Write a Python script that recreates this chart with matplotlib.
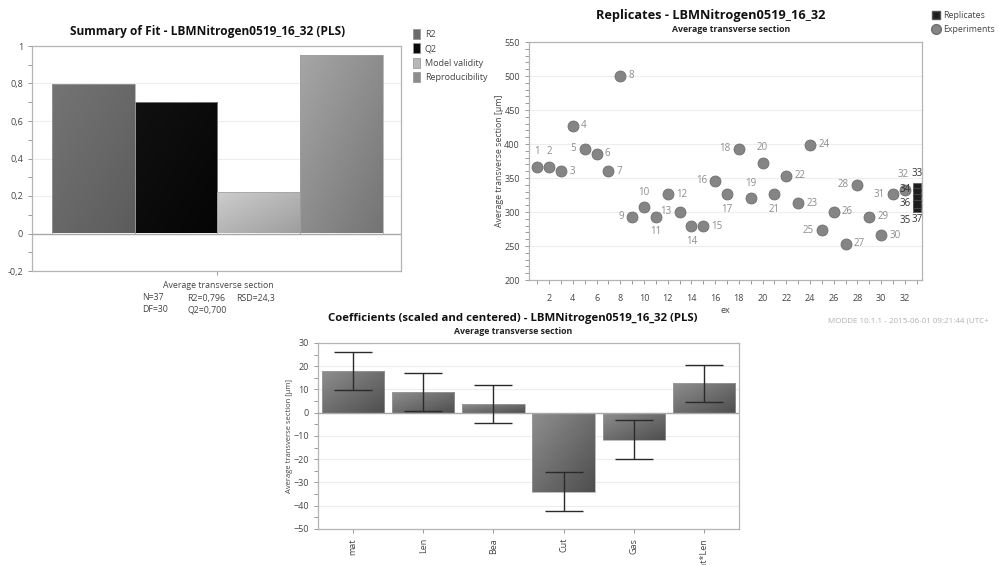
import numpy as np
import matplotlib.pyplot as plt
from matplotlib.patches import Rectangle
from matplotlib.lines import Line2D
from matplotlib.colors import LinearSegmentedColormap
from matplotlib.ticker import MultipleLocator, FuncFormatter

plt.rcParams['font.family'] = ['Open Sans', 'DejaVu Sans']

# --- data -------------------------------------------------------------
fit_names = ['R2', 'Q2', 'Model validity', 'Reproducibility']
fit_values = [0.796, 0.700, 0.222, 0.952]

exp_no = list(range(1, 33))
exp_values = [366, 366, 360, 427, 393, 386, 360, 500, 293, 307, 293, 326,
              300, 279, 279, 346, 326, 393, 320, 372, 326, 353, 313, 399,
              273, 300, 253, 340, 293, 266, 326, 333]
rep_no = [33, 34, 35, 36, 37]
rep_pos = [33, 33, 33, 33, 33]
rep_values = [337, 329, 306, 320, 312]

coef_terms = ['mat', 'Len', 'Bea', 'Cut', 'Gas', 'mat*Len']
coef_values = [17.9, 9.0, 3.7, -33.9, -11.6, 12.6]
coef_err = [8.3, 8.2, 8.2, 8.3, 8.3, 7.8]

# where the point numbers sit around each marker
label_side = {1: 'above', 2: 'above', 3: 'right', 4: 'right', 5: 'left', 6: 'right',
              7: 'right', 8: 'right', 9: 'left', 10: 'above', 11: 'below', 12: 'right',
              13: 'left', 14: 'below', 15: 'right', 16: 'left', 17: 'below', 18: 'left',
              19: 'above', 20: 'above', 21: 'below', 22: 'right', 23: 'right', 24: 'right',
              25: 'left', 26: 'right', 27: 'right', 28: 'left', 29: 'right', 30: 'right',
              31: 'left', 32: 'above'}
# replicate numbers are crowded, so they get their own offsets (points)
rep_label_off = {33: (0.3, 9.9), 34: (-8.4, 2.2), 35: (-8.6, -9.4),
                 36: (-8.4, -4.0), 37: (0.6, -11.0)}

W, H = 999, 565
fig = plt.figure(figsize=(W / 100, H / 100), dpi=100)


def box(x0, y0, x1, y1):
    # pixel box (top-left origin) -> figure fraction
    return [x0 / W, 1 - y1 / H, (x1 - x0) / W, (y1 - y0) / H]


def style(ax):
    for s in ax.spines.values():
        s.set_color('#b4b4b4')
        s.set_linewidth(0.9)
    ax.tick_params(which='both', colors='#9a9a9a', labelcolor='#444444',
                   labelsize=6.5, length=3, width=0.7)
    ax.grid(axis='y', color='#ededed', lw=0.8)
    ax.set_axisbelow(True)


def shade(ax, bars, c1, c2):
    cmap = LinearSegmentedColormap.from_list('g', [c1, c2])
    u, v = np.meshgrid(np.linspace(0, 1, 60), np.linspace(0, 1, 60))
    grad = (u + v) / 2
    xl, yl = ax.get_xlim(), ax.get_ylim()
    for b in bars:
        x0, y0 = b.get_x(), b.get_y()
        w, h = b.get_width(), b.get_height()
        im = ax.imshow(grad, cmap=cmap, origin='upper', aspect='auto',
                       extent=(x0, x0 + w, min(y0, y0 + h), max(y0, y0 + h)),
                       zorder=1.5)
        im.set_clip_path(b)
        b.set_facecolor('none')
    ax.set_xlim(xl)
    ax.set_ylim(yl)


comma = FuncFormatter(lambda v, p: f'{round(v, 1):g}'.replace('.', ','))

# --- summary of fit -----------------------------------------------------
ax1 = fig.add_axes(box(32, 46, 401, 271))
style(ax1)
fit_colors = [('#747474', '#5c5c5c'), ('#111111', '#050505'),
              ('#cdcdcd', '#9e9e9e'), ('#a6a6a6', '#747474')]
ax1.set_xlim(-0.74, 3.72)
ax1.set_ylim(-0.2, 1.0)
for i, (v, c) in enumerate(zip(fit_values, fit_colors)):
    b = ax1.bar(i, v, width=1.0, edgecolor='#a0a0a0', linewidth=0.5, zorder=2)
    shade(ax1, b, c[0], c[1])
ax1.axhline(0, color='#a8a8a8', lw=1, zorder=3)
ax1.yaxis.set_major_locator(MultipleLocator(0.2))
ax1.yaxis.set_minor_locator(MultipleLocator(0.1))
ax1.yaxis.set_major_formatter(comma)
ax1.set_xticks([1.5])
ax1.set_xticklabels([''])
fig.text(208 / W, 1 - 32 / H, 'Summary of Fit - LBMNitrogen0519_16_32 (PLS)',
         ha='center', va='center', fontsize=8.6, fontweight='bold', color='#111111')
fig.text(218 / W, 1 - 286 / H, 'Average transverse section', ha='center', va='center',
         fontsize=6.3, color='#444444')
for x, y, t in [(142, 298, 'N=37'), (187, 298, 'R2=0,796'), (236, 298, 'RSD=24,3'),
                (142, 310, 'DF=30'), (187, 310, 'Q2=0,700')]:
    fig.text(x / W, 1 - y / H, t, ha='left', va='center', fontsize=6.3, color='#444444')
leg_colors = ['#6c6c6c', '#0a0a0a', '#b8b8b8', '#8c8c8c']
handles = [Rectangle((0, 0), 1, 1, fc=c, ec='#909090', lw=0.5) for c in leg_colors]
fig.legend(handles, fit_names, loc='upper left', bbox_to_anchor=(405 / W, 1 - 21 / H),
           frameon=False, fontsize=6.5, handlelength=0.8, handleheight=1.35,
           handletextpad=0.5, labelspacing=0.45, labelcolor='#444444')

# --- replicates ---------------------------------------------------------
ax2 = fig.add_axes(box(529, 42, 922, 280))
style(ax2)
ax2.set_xlim(0.3, 33.45)
ax2.set_ylim(200, 550)
ax2.scatter(exp_no, exp_values, s=62, color='#858585', edgecolor='#6e6e6e',
            linewidth=0.6, zorder=3)
ax2.scatter(rep_pos, rep_values, s=36, marker='s', color='#1e1e1e',
            edgecolor='#555555', linewidth=0.5, zorder=3)
offs = {'above': (0, 7, 'center', 'bottom'), 'below': (0, -7, 'center', 'top'),
        'left': (-6, 0, 'right', 'center'), 'right': (6, 0, 'left', 'center')}
for n, y in zip(exp_no, exp_values):
    dx, dy, ha, va = offs[label_side[n]]
    if n == 32:
        dx = -1.2
    ax2.annotate(str(n), (n, y), xytext=(dx, dy), textcoords='offset points',
                 ha=ha, va=va, fontsize=7, color='#8c8c8c', zorder=4)
for n, x, y in zip(rep_no, rep_pos, rep_values):
    ax2.annotate(str(n), (x, y), xytext=rep_label_off[n], textcoords='offset points',
                 ha='center', va='center', fontsize=7, color='#333333', zorder=4)
ax2.xaxis.set_major_locator(MultipleLocator(2))
ax2.xaxis.set_minor_locator(MultipleLocator(1))
ax2.yaxis.set_major_locator(MultipleLocator(50))
ax2.yaxis.set_minor_locator(MultipleLocator(10))
ax2.tick_params(axis='x', which='major', pad=7)
ax2.set_xlabel('ex', fontsize=6.5, color='#444444', labelpad=2)
ax2.set_ylabel('Average transverse section [µm]', fontsize=6.3, color='#444444', labelpad=0)
fig.text(711 / W, 1 - 15 / H, 'Replicates - LBMNitrogen0519_16_32', ha='center',
         va='center', fontsize=9.2, fontweight='bold', color='#111111')
fig.text(731 / W, 1 - 29 / H, 'Average transverse section', ha='center',
         va='center', fontsize=6.3, fontweight='bold', color='#222222')
leg2 = [Line2D([], [], ls='none', marker='s', ms=6, mfc='#1e1e1e', mec='#555555'),
        Line2D([], [], ls='none', marker='o', ms=7, mfc='#858585', mec='#6e6e6e')]
fig.legend(leg2, ['Replicates', 'Experiments'], loc='upper left',
           bbox_to_anchor=(925 / W, 1 - 3 / H), frameon=False, fontsize=6.3,
           handlelength=0.8, handletextpad=0.4, labelspacing=0.55, labelcolor='#444444')
fig.text(828 / W, 1 - 321 / H, 'MODDE 10.1.1 - 2015-06-01 09:21:44 (UTC+',
         ha='left', va='center', fontsize=5.8, color='#b0b0b0')

# --- coefficients -------------------------------------------------------
ax3 = fig.add_axes(box(318, 343, 739, 529))
style(ax3)
xc = np.arange(len(coef_terms))
ax3.set_xlim(-0.5, 5.5)
ax3.set_ylim(-50, 30)
b3 = ax3.bar(xc, coef_values, width=0.89, edgecolor='#a0a0a0', linewidth=0.5, zorder=2)
shade(ax3, b3, '#8e8e8e', '#4e4e4e')
ax3.errorbar(xc, coef_values, yerr=coef_err, fmt='none', ecolor='#2a2a2a',
             elinewidth=1.0, capsize=14, capthick=1.0, zorder=4)
ax3.axhline(0, color='#a8a8a8', lw=1, zorder=3)
ax3.yaxis.set_major_locator(MultipleLocator(10))
ax3.yaxis.set_minor_locator(MultipleLocator(5))
ax3.set_xticks(xc)
ax3.set_xticklabels(coef_terms, rotation=90)
ax3.set_ylabel('Average transverse section [µm]', fontsize=5.5, color='#444444', labelpad=0)
fig.text(513 / W, 1 - 319 / H, 'Coefficients (scaled and centered) - LBMNitrogen0519_16_32 (PLS)',
         ha='center', va='center', fontsize=8.2, fontweight='bold', color='#111111')
fig.text(513 / W, 1 - 332 / H, 'Average transverse section', ha='center', va='center',
         fontsize=6.3, fontweight='bold', color='#222222')

fig.savefig('out.png', dpi=100, facecolor='white')
